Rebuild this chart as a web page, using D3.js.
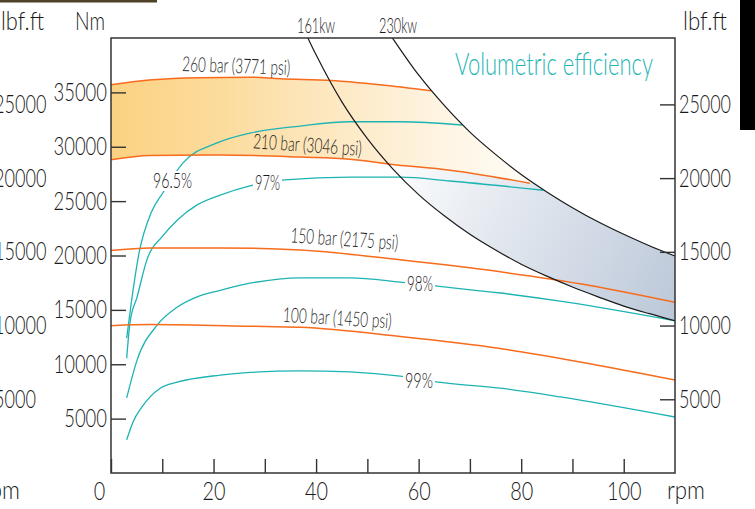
<!DOCTYPE html>
<html>
<head>
<meta charset="utf-8">
<script src="https://cdn.jsdelivr.net/npm/d3@7"></script>
<style>
  body { margin: 0; background: #fff; }
  svg { display: block; }
  text { font-family: Lato, "DejaVu Sans", sans-serif; font-weight: 300; }
</style>
</head>
<body>
<div id="chart"></div>
<script>
// --- data (rpm / Nm) ---
const rpmTicks = [0, 10, 20, 30, 40, 50, 60, 70, 80, 90, 100];
const rpmLabels = [0, 20, 40, 60, 80, 100];
const nmTicks = [5000, 10000, 15000, 20000, 25000, 30000, 35000];
const lbfTicks = [5000, 10000, 15000, 20000, 25000];

const bar260Rpm = [0, 8, 17, 27, 33, 43, 52.5, 62.4];
const bar260Nm = [35700, 36150, 36350, 36400, 36250, 36100, 35700, 35150];
const bar210Rpm = [0, 7.6, 21.3, 36.9, 46.6, 54.4, 66.1, 81.7];
const bar210Nm = [28800, 29200, 29250, 29050, 28850, 28400, 27850, 26650];
const bar150Rpm = [0, 7.6, 21.3, 36.9, 56.4, 75.9, 93.4, 110];
const bar150Nm = [20450, 20700, 20700, 20500, 19600, 18500, 17250, 15700];
const bar100Rpm = [0, 7.6, 27.1, 36.9, 56.4, 75.9, 93.4, 110];
const bar100Nm = [13550, 13650, 13500, 13400, 12550, 11450, 10050, 8550];

const eff965Rpm = [3.06, 3.9, 5.5, 7.8, 10.1, 14.0, 20.7, 27.1, 36.9, 46.6, 56.4, 68.5];
const eff965Nm = [12400, 15450, 20300, 23900, 25750, 28500, 30350, 31250, 31900, 32300, 32300, 32000];
const eff97Rpm = [3.06, 3.7, 5.1, 7.0, 10.1, 12.9, 16.8, 21.3, 27.1, 33.9, 46.6, 56.4, 66.1, 84.3];
const eff97Nm = [10550, 13800, 16200, 19600, 21800, 23250, 24650, 25550, 26400, 26950, 27200, 27200, 26850, 26000];
const eff98Rpm = [3.06, 5.1, 9.0, 12.9, 16.8, 21.3, 27.1, 36.9, 46.6, 56.4, 63.2, 75.9, 87.6, 110];
const eff98Nm = [6900, 10400, 13600, 15250, 16200, 16800, 17450, 17950, 17950, 17550, 17200, 16550, 15800, 14000];
const eff99Rpm = [3.06, 4.3, 6.0, 9.6, 12.9, 21.3, 27.1, 36.9, 46.6, 56.4, 63.0, 75.9, 87.6, 110];
const eff99Nm = [3050, 4700, 6050, 7800, 8350, 9000, 9250, 9400, 9300, 8900, 8400, 7800, 7000, 5150];

const kw161Rpm = [38.4, 40, 45, 50, 55, 60, 65, 70, 75, 80, 85, 90, 95, 100, 105, 110];
const kw161Nm = [40000, 38450, 34150, 30750, 27950, 25600, 23650, 21950, 20500, 19200, 18100, 17100, 16200, 15350, 14650, 14000];
const kw230Rpm = [54.9, 60, 65, 70, 75, 80, 85, 90, 95, 100, 105, 110];
const kw230Nm = [40000, 36600, 33800, 31350, 29300, 27450, 25850, 24400, 23100, 21950, 20900, 19950];

// --- canvas and scales ---
const W = 755, H = 509;
const svg = d3.select("#chart").append("svg").attr("width", W).attr("height", H);

const x = d3.scaleLinear().domain([0, 110]).range([111, 675]);
const y = d3.scaleLinear().domain([0, 40000]).range([473, 38]);
const yLbf = d3.scaleLinear().domain([0, 40000 / 1.35582]).range([473, 38]);

const pts = (r, v) => r.map((d, i) => [d, v[i]]);
const line = d3.line().x(d => x(d[0])).y(d => y(d[1])).curve(d3.curveMonotoneX);

const p260 = pts(bar260Rpm, bar260Nm), p210 = pts(bar210Rpm, bar210Nm);
const p150 = pts(bar150Rpm, bar150Nm), p100 = pts(bar100Rpm, bar100Nm);
const p161 = pts(kw161Rpm, kw161Nm), p230 = pts(kw230Rpm, kw230Nm);

const ORANGE = "#f76b1c", TEAL = "#1db3b3", INK = "#1a1a1a";

// small text helper, squeezed to the narrow drafting font of the original
function label(str, tx, ty, size, width, o = {}) {
  return svg.append("text")
    .attr("x", tx).attr("y", ty)
    .attr("font-size", size)
    .attr("text-anchor", o.anchor || "start")
    .attr("textLength", width).attr("lengthAdjust", "spacingAndGlyphs")
    .attr("fill", o.color || INK)
    .attr("transform", o.rotate ? `rotate(${o.rotate},${tx},${ty})` : null)
    .text(str);
}

// --- decorations at the image edges ---
svg.append("rect").attr("x", 0).attr("y", 0).attr("width", 157).attr("height", 2.5).attr("fill", "#4f4226");
svg.append("rect").attr("x", 740).attr("y", 0).attr("width", 15).attr("height", 130).attr("fill", "#000");

// --- clip regions built from the curves ---
const defs = svg.append("defs");
const xl = x(0), xr = x(110), yb = y(0), yt = y(40000);
const clip = (id, d) => defs.append("clipPath").attr("id", id).append("path").attr("d", d);
clip("leftOf230", `${line(p230)}L${xr},${yb}L${xl},${yb}L${xl},${yt}Z`);
clip("rightOf161", `${line(p161)}L${xr},${yt}Z`);
clip("below260", `${line(p260)}L${xr},${y(p260[p260.length - 1][1])}L${xr},${yb}L${xl},${yb}Z`);
clip("above210", `${line(p210)}L${xr},${y(p210[p210.length - 1][1])}L${xr},${yt}L${xl},${yt}Z`);
clip("below210", `${line(p210)}L${xr},${y(p210[p210.length - 1][1])}L${xr},${yb}L${xl},${yb}Z`);

const og = defs.append("linearGradient").attr("id", "orangeGrad")
  .attr("gradientUnits", "userSpaceOnUse").attr("x1", 111).attr("y1", 0).attr("x2", 533).attr("y2", 0);
[[0, "#fbd282"], [0.25, "#fcdb9b"], [0.5, "#fde7bf"], [0.75, "#fef3df"], [1, "#fffdf8"]]
  .forEach(s => og.append("stop").attr("offset", s[0]).attr("stop-color", s[1]));
const bg = defs.append("linearGradient").attr("id", "blueGrad")
  .attr("gradientUnits", "userSpaceOnUse").attr("x1", 395).attr("y1", 165).attr("x2", 675).attr("y2", 310);
[[0, "#fbfcfd"], [1, "#bcc8d9"]]
  .forEach(s => bg.append("stop").attr("offset", s[0]).attr("stop-color", s[1]));

// --- fills ---
const nest = (ids) => ids.reduce((g, id) => g.append("g").attr("clip-path", `url(#${id})`), svg);
nest(["leftOf230", "below260", "above210"]).append("rect")
  .attr("x", xl).attr("y", yt).attr("width", xr - xl).attr("height", yb - yt).attr("fill", "url(#orangeGrad)");
nest(["leftOf230", "rightOf161", "below210"]).append("rect")
  .attr("x", xl).attr("y", yt).attr("width", xr - xl).attr("height", yb - yt).attr("fill", "url(#blueGrad)");

// --- lines ---
[[eff965Rpm, eff965Nm], [eff97Rpm, eff97Nm], [eff98Rpm, eff98Nm], [eff99Rpm, eff99Nm]].forEach(s => {
  svg.append("path").attr("d", line(pts(s[0], s[1])))
    .attr("fill", "none").attr("stroke", TEAL).attr("stroke-width", 1.3);
});
[p260, p210, p150, p100].forEach(p => {
  svg.append("path").attr("d", line(p))
    .attr("fill", "none").attr("stroke", ORANGE).attr("stroke-width", 1.5);
});
[p161, p230].forEach(p => {
  svg.append("path").attr("d", line(p))
    .attr("fill", "none").attr("stroke", INK).attr("stroke-width", 1.2);
});

// --- axes ---
svg.append("rect").attr("x", xl).attr("y", yt).attr("width", xr - xl).attr("height", yb - yt)
  .attr("fill", "none").attr("stroke", "#333").attr("stroke-width", 1.5);

const styleAxis = (g, size, perChar) => {
  g.select(".domain").remove();
  g.attr("color", "#333");
  g.selectAll(".tick line").attr("stroke-width", 1.4);
  g.selectAll(".tick text").attr("font-size", size).attr("fill", INK)
    .attr("lengthAdjust", "spacingAndGlyphs")
    .attr("textLength", function () { return this.textContent.length * perChar || null; });
};

svg.append("g").attr("transform", `translate(${xl},0)`)
  .call(d3.axisLeft(y).tickValues(nmTicks).tickSize(-15).tickPadding(4).tickFormat(d3.format("d")))
  .call(g => styleAxis(g, 25, 10.7));

svg.append("g").attr("transform", `translate(${xr},0)`)
  .call(d3.axisRight(yLbf).tickValues(lbfTicks).tickSize(-15).tickPadding(4).tickFormat(d3.format("d")))
  .call(g => styleAxis(g, 25, 10.4));

svg.append("g").attr("transform", `translate(0,${yb})`)
  .call(d3.axisBottom(x).tickValues(rpmTicks).tickSize(-14).tickPadding(9)
    .tickFormat(d => rpmLabels.includes(d) ? d : ""))
  .call(g => styleAxis(g, 25, 11.5))
  .call(g => g.selectAll(".tick text").filter(d => d === 0).attr("dx", -12));

// lbf.ft labels cut off on the left edge
lbfTicks.forEach(v => label(String(v), -6, yLbf(v) + 8.5, 25, String(v).length * 10.5));

// --- titles and unit labels ---
label("lbf.ft", 1, 30, 25, 43);
label("Nm", 75, 30, 25, 30);
label("lbf.ft", 683, 30, 25, 44);
label("rpm", 667, 499, 25, 38);
label("rpm", 20, 499, 25, 38, { anchor: "end" });
label("161kw", 297, 33, 21, 38);
label("230kw", 379, 33, 21, 38);
label("Volumetric efficiency", 455, 75, 31, 198, { color: "#27b6b6" });

// pressure labels
label("260 bar (3771 psi)", 236, 73, 20.5, 108, { anchor: "middle", rotate: 2 });
label("210 bar (3046 psi)", 307, 152, 20.5, 109, { anchor: "middle", rotate: 4 });
label("150 bar (2175 psi)", 344, 246, 20.5, 108, { anchor: "middle", rotate: 4 });
label("100 bar (1450 psi)", 337, 325, 20.5, 109, { anchor: "middle", rotate: 3.5 });

// efficiency labels sitting on their curves
[["96.5%", 172.5, 188, 39], ["97%", 267.5, 190, 25], ["98%", 420, 291, 26], ["99%", 419, 388, 28]]
  .forEach(l => {
    svg.append("rect").attr("x", l[1] - l[3] / 2 - 2).attr("y", l[2] - 17)
      .attr("width", l[3] + 4).attr("height", 20).attr("fill", "#fff");
    label(l[0], l[1], l[2], 21, l[3], { anchor: "middle" });
  });
</script>
</body>
</html>
